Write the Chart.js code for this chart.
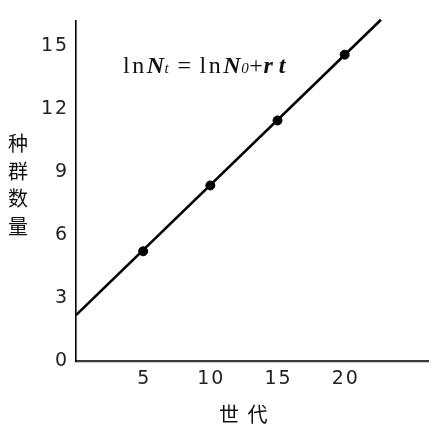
<!DOCTYPE html>
<html>
<head>
<meta charset="utf-8">
<script src="https://cdn.jsdelivr.net/npm/chart.js@4.4.0/dist/chart.umd.min.js"></script>
<style>
  html, body { margin: 0; padding: 0; background: #fff; }
  #wrap { position: relative; width: 438px; height: 437px; }
  #ytitle {
    position: absolute; left: 7px; top: 129px; width: 22px;
    font-family: "Noto Sans CJK SC", sans-serif; font-size: 20px; line-height: 27.5px;
    color: #111; text-align: center;
  }
  #xtitle {
    position: absolute; left: 219px; top: 400px;
    font-family: "Noto Sans CJK SC", sans-serif; font-size: 20px; line-height: 28px;
    color: #111; white-space: nowrap; word-spacing: 4px;
  }
  #formula {
    position: absolute; left: 123px; top: 52px;
    font-family: "Liberation Serif", "DejaVu Serif", serif; font-size: 24px; color: #111;
    white-space: nowrap; letter-spacing: 0.6px;
  }
  #formula .ln { letter-spacing: 2.5px; }
  #formula .v { font-style: italic; font-weight: bold; }
  #formula .s { font-style: italic; font-size: 15px; }
  #formula .op { display: inline-block; margin: 0 8px; }
</style>
</head>
<body>
<div id="wrap">
  <canvas id="c" width="438" height="437"></canvas>
  <div id="ytitle">种<br>群<br>数<br>量</div>
  <div id="xtitle"></div>
  <div id="formula"><span class="ln">ln</span><span class="v">N</span><span class="s">t</span><span class="op">=</span><span class="ln">ln</span><span class="v">N</span><span class="s">0</span>+<span class="v">r</span>&#8201;<span class="v">t</span></div>
</div>
<script>
// Data
const generations = [5, 10, 15, 20];
const populationValues = [5.22, 8.35, 11.44, 14.57];
const lineX = [0, 22.7];
const lineY = [2.18, 16.23];
const xTickValues = [5, 10, 15, 20];
const yTickValues = [0, 3, 6, 9, 12, 15];
const xTitle = '世 代';

document.getElementById('xtitle').textContent = xTitle;

const ctx = document.getElementById('c');
new Chart(ctx, {
  type: 'scatter',
  data: {
    datasets: [
      {
        data: lineX.map((x, i) => ({ x: x, y: lineY[i] })),
        showLine: true,
        borderColor: '#000',
        borderWidth: 2.6,
        pointRadius: 0,
        clip: false
      },
      {
        data: generations.map((x, i) => ({ x: x, y: populationValues[i] })),
        showLine: false,
        backgroundColor: '#000',
        borderColor: '#000',
        pointRadius: 4.5
      }
    ]
  },
  options: {
    responsive: false,
    animation: false,
    layout: { padding: { left: 0, top: 20, right: 10, bottom: 0 } },
    plugins: { legend: { display: false }, tooltip: { enabled: false } },
    scales: {
      x: {
        type: 'linear',
        min: 0, max: 26.2,
        afterBuildTicks: (axis) => { axis.ticks = xTickValues.map(v => ({ value: v })); },
        afterFit: (s) => { s.height = 76; },
        grid: { display: false, drawTicks: false },
        border: { display: true, color: '#3a3a3a', width: 2.2 },
        ticks: {
          padding: 7,
          color: '#222',
          font: { family: 'DejaVu Sans', size: 19 },
          callback: (v) => String(v).split('').join('\u200A')
        }
      },
      y: {
        type: 'linear',
        min: 0, max: 16.2,
        afterBuildTicks: (axis) => { axis.ticks = yTickValues.map(v => ({ value: v })); },
        afterFit: (s) => { s.width = 76; },
        grid: { display: false, drawTicks: false },
        border: { display: true, color: '#000', width: 1.6 },
        ticks: {
          padding: 9,
          color: '#222',
          font: { family: 'DejaVu Sans', size: 19 },
          callback: (v) => String(v).split('').join('\u200A')
        }
      }
    }
  }
});
</script>
</body>
</html>
